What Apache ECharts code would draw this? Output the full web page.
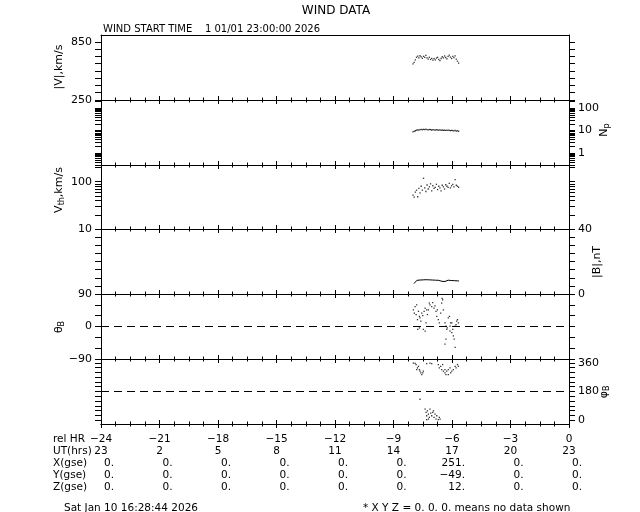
<!DOCTYPE html>
<html><head><meta charset="utf-8">
<script src="https://cdn.jsdelivr.net/npm/echarts@6/dist/echarts.min.js"></script>
<style>html,body{margin:0;padding:0;background:#fff}#c{width:640px;height:512px}</style>
</head><body><div id="c"></div>
<script>
// ---------------- DATA ----------------
const plasmaHours = [-8.00,-7.94,-7.88,-7.82,-7.76,-7.70,-7.64,-7.58,-7.52,-7.46,-7.40,-7.34,-7.28,-7.22,-7.16,-7.10,-7.04,-6.98,-6.92,-6.86,-6.80,-6.74,-6.68,-6.62,-6.56,-6.50,-6.44,-6.38,-6.32,-6.26,-6.20,-6.14,-6.08,-6.02,-5.96,-5.90,-5.84,-5.78,-5.72,-5.66];
const speedKms = [622,638,664,690,702,684,706,694,680,700,690,710,684,672,690,668,680,660,676,664,682,690,668,656,678,696,684,704,688,674,700,712,692,678,700,686,704,672,650,630];
const densityNp = [8.8,9.2,9.8,10.4,10.8,10.4,11.1,11.4,10.8,11.3,11.0,11.5,11.1,10.8,11.2,11.0,10.6,11.0,10.8,10.5,10.9,10.6,10.4,10.7,10.3,10.6,10.2,10.4,10.1,10.3,10.5,10.2,9.9,10.2,10.0,9.7,10.1,9.5,9.8,9.3];
const thermalVth = [52,47,60,66,48,72,58,80,66,118,74,62,85,70,78,90,64,82,72,76,88,68,80,74,64,84,78,70,86,80,76,92,74,82,88,78,110,84,80,76];

const magHours = [-7.95,-7.88,-7.80,-7.72,-7.64,-7.56,-7.48,-7.40,-7.32,-7.24,-7.16,-7.08,-7.00,-6.92,-6.84,-6.76,-6.68,-6.60,-6.52,-6.44,-6.36,-6.28,-6.20,-6.12,-6.04,-5.96,-5.88,-5.80,-5.72,-5.64];
const fieldBnT = [6.4,6.6,8.4,8.8,8.6,8.9,8.7,9.2,8.8,8.9,8.7,8.8,8.6,8.6,8.5,8.3,8.4,8.0,7.8,8.1,7.7,8.3,8.5,8.2,8.3,8.1,8.2,8.0,8.1,8.0];

const thetaHours = [-7.98,-7.89,-7.81,-7.93,-7.84,-7.72,-7.67,-7.77,-7.64,-7.55,-7.60,-7.50,-7.43,-7.38,-7.30,-7.76,-7.67,-7.47,-7.38,-7.33,-7.26,-7.21,-7.16,-7.13,-7.04,-6.99,-6.92,-6.87,-6.82,-6.75,-6.78,-6.70,-6.65,-6.58,-6.53,-6.51,-6.48,-6.44,-6.36,-6.31,-6.27,-6.24,-6.19,-6.13,-6.10,-6.07,-6.01,-5.96,-5.93,-5.89,-5.84,-5.79,-5.76,-5.72,-5.67,-5.84,-6.31,-6.36,-6.01,-6.10];
const thetaDeg = [46,55,60,37,33,42,28,19,24,37,15,30,42,51,46,-8,-4,-8,-13,10,33,46,65,60,55,66,51,57,42,46,28,19,10,37,65,78,74,46,10,1,-8,-4,24,28,-13,10,-17,-8,-26,-35,1,5,15,19,10,-58,-35,-49,10,1];

const phiHours = [-7.98,-7.89,-7.84,-7.77,-7.72,-7.67,-7.64,-7.60,-7.55,-7.50,-7.47,-7.81,-7.30,-7.13,-7.04,-6.70,-6.65,-6.58,-6.53,-6.44,-6.36,-6.31,-6.27,-6.19,-6.10,-6.01,-5.93,-5.84,-5.79,-5.72,-5.67,-6.36,-6.48,-6.19,-6.07,
  -7.64,-7.38,-7.33,-7.30,-7.26,-7.21,-7.16,-7.13,-7.09,-7.04,-6.99,-6.95,-6.92,-6.87,-6.82,-6.78,-7.21,-6.70,-6.65,-6.61,-7.30];
const phiDeg = [359,357,350,329,339,318,308,298,287,298,308,318,356,359,356,350,329,339,318,308,298,287,308,318,329,308,318,339,329,350,339,318,350,287,298,
  131,69,48,27,58,37,17,69,44,27,48,58,17,37,6,27,6,2,17,6,2];

// tick labels / table
const relHr = [-24,-21,-18,-15,-12,-9,-6,-3,0];
const utHrs = ['23','2','5','8','11','14','17','20','23'];
const xGse = ['0.','0.','0.','0.','0.','0.','251.','0.','0.'];
const yGse = ['0.','0.','0.','0.','0.','0.','-49.','0.','0.'];
const zGse = ['0.','0.','0.','0.','0.','0.','12.','0.','0.'];
const rowLabels = ['rel HR','UT(hrs)','X(gse)','Y(gse)','Z(gse)'];

const speedTicks = [250,325,400,475,550,625,700,775,850];
const speedLabels = [250,850];
function logTicks(lo, hi){ const out=[]; for(let d=lo; d<hi; d*=10){ for(let k=1;k<10;k++){ out.push(+(d*k).toPrecision(3)); } } return out; }
const npTicks = logTicks(0.1, 1000);
const npLabels = [1,10,100];
const vthTicks = logTicks(10, 1000);
const vthLabels = [10,100];
const bTicks = [0,5,10,15,20,25,30,35,40];
const bLabels = [0,40];
const thetaTicks = [-90,-60,-30,0,30,60,90];
const thetaLabels = [-90,0,90];
const phiTicks = [0,30,60,90,120,150,180,210,240,270,300,330,360];
const phiLabels = [0,180,360];

// ---------------- CHART ----------------
const FONT = 'DejaVu Sans';
const FS = 11;
const TFS = 10.5;
const chart = echarts.init(document.getElementById('c'), null, {renderer:'canvas', width:640, height:512});

const tops = [35,100,165,229,294,359];
const heights = [65,65,64,65,65,65];
const grids = tops.map((t,i)=>({left:101, width:468, top:t, height:heights[i], outerBoundsMode:'none', containLabel:false}));

const BLACK = '#000';
function minus(v){ return String(v).replace('-', '\u2212'); }

const xAxes = [];
const bottomX = [];
function addX(gi, pos, inside, showTicks, labels){
  const ax = {
    type:'value', gridIndex:gi, position:pos, min:-24, max:0, interval:3,
    axisLine:{show:true, onZero:false, lineStyle:{color:BLACK, width:1}},
    axisTick:{show:showTicks, inside:inside, length:4, lineStyle:{color:BLACK, width:1}},
    minorTick:{show:showTicks, splitNumber:4, length:2.5, lineStyle:{color:BLACK, width:1}},
    splitLine:{show:false}, minorSplitLine:{show:false},
    axisLabel:{show:false}
  };
  if(labels){
    ax.axisLabel = {
      show:true, margin:9, showMinLabel:true, showMaxLabel:true, hideOverlap:false,
      fontFamily:FONT, fontSize:TFS, color:BLACK,
      formatter:function(v){
        const i = relHr.indexOf(Math.round(v));
        if(i<0) return '';
        return '{a|'+minus(relHr[i])+'}\n{a|'+utHrs[i]+'}\n{b|'+minus(xGse[i])+'}\n{b|'+minus(yGse[i])+'}\n{b|'+minus(zGse[i])+'}';
      },
      rich:{
        a:{fontFamily:FONT, fontSize:TFS, lineHeight:12, color:BLACK},
        b:{fontFamily:FONT, fontSize:TFS, lineHeight:12, color:BLACK, width:26, align:'right'}
      }
    };
  }
  xAxes.push(ax);
  return xAxes.length-1;
}
for(let i=0;i<6;i++){
  bottomX.push(addX(i,'bottom',true,true,false));
  addX(i,'top',true,i>0,false);
}
addX(5,'bottom',false,true,true);

const panels = [
  {type:'value', min:250, max:920, ticks:speedTicks, labels:speedLabels, side:'left'},
  {type:'log', min:0.3, max:225, ticks:npTicks, labels:npLabels, side:'right'},
  {type:'log', min:10, max:225, ticks:vthTicks, labels:vthLabels, side:'left'},
  {type:'value', min:0, max:40, ticks:bTicks, labels:bLabels, side:'right'},
  {type:'value', min:-90, max:90, ticks:thetaTicks, labels:thetaLabels, side:'left'},
  {type:'value', min:-25, max:385, ticks:phiTicks, labels:phiLabels, side:'right'}
];
const yAxes = [];
const leftY = [];
panels.forEach((p,i)=>{
  ['left','right'].forEach(side=>{
    const ax = {
      type:p.type, gridIndex:i, position:side, min:p.min, max:p.max,
      axisLine:{show:true, onZero:false, lineStyle:{color:BLACK, width:1}},
      axisTick:{show:true, inside:false, length:6, customValues:p.ticks, lineStyle:{color:BLACK, width:1}},
      minorTick:{show:false}, splitLine:{show:false},
      axisLabel:{show:side===p.side, customValues:p.labels, margin:9, fontFamily:FONT, fontSize:FS, color:BLACK,
        formatter:function(v){ return minus(v); }}
    };
    yAxes.push(ax);
    if(side==='left') leftY.push(yAxes.length-1);
  });
});

function zip(a,b){ return a.map((v,i)=>[v,b[i]]); }
const dotStyle = {color:BLACK};
const DOT = 1.3;
const dash = {type:[8,5], color:BLACK, width:1};
const series = [
  {type:'scatter', xAxisIndex:bottomX[0], yAxisIndex:leftY[0], data:zip(plasmaHours,speedKms), symbol:'rect', symbolSize:DOT, itemStyle:dotStyle},
  {type:'scatter', xAxisIndex:bottomX[1], yAxisIndex:leftY[1], data:zip(plasmaHours,densityNp), symbol:'rect', symbolSize:DOT, itemStyle:dotStyle},
  {type:'scatter', xAxisIndex:bottomX[2], yAxisIndex:leftY[2], data:zip(plasmaHours,thermalVth), symbol:'rect', symbolSize:DOT, itemStyle:dotStyle},
  {type:'line', xAxisIndex:bottomX[3], yAxisIndex:leftY[3], data:zip(magHours,fieldBnT), showSymbol:false, symbol:'none', lineStyle:{color:BLACK, width:1}},
  {type:'scatter', xAxisIndex:bottomX[4], yAxisIndex:leftY[4], data:zip(thetaHours,thetaDeg), symbol:'rect', symbolSize:DOT, itemStyle:dotStyle,
    markLine:{silent:true, symbol:['none','none'], label:{show:false}, lineStyle:dash, data:[{yAxis:0}]}},
  {type:'scatter', xAxisIndex:bottomX[5], yAxisIndex:leftY[5], data:zip(phiHours,phiDeg), symbol:'rect', symbolSize:DOT, itemStyle:dotStyle,
    markLine:{silent:true, symbol:['none','none'], label:{show:false}, lineStyle:dash, data:[{yAxis:180}]}}
];

function txt(x,y,text,opts){
  opts = opts||{};
  return {type:'text', x:x, y:y, rotation:opts.rot||0, silent:true,
    style:{text:text, fill:BLACK, fontFamily:FONT, fontSize:opts.fs||FS, align:opts.align||'left', verticalAlign:'middle', rich:opts.rich}};
}
const subRich = {n:{fontFamily:FONT, fontSize:FS, fill:BLACK, lineHeight:14}, s:{fontFamily:FONT, fontSize:8, fill:BLACK, verticalAlign:'bottom', lineHeight:14}};
const graphics = [
  txt(336,11,'WIND DATA',{align:'center', fs:12}),
  txt(103,29,'WIND START TIME    1 01/01 23:00:00 2026',{fs:10}),
  txt(59,67,'|V|,km/s',{align:'center', rot:Math.PI/2}),
  txt(59,190,'{n|V}{s|th}{n|,km/s}',{align:'center', rot:Math.PI/2, rich:subRich}),
  txt(59,327,'{n|θ}{s|B}',{align:'center', rot:Math.PI/2, rich:subRich}),
  txt(604,130,'{n|N}{s|p}',{align:'center', rot:Math.PI/2, rich:subRich}),
  txt(597,262,'|B|,nT',{align:'center', rot:Math.PI/2}),
  txt(604,392,'{n|φ}{s|B}',{align:'center', rot:Math.PI/2, rich:subRich}),
  txt(64,508,'Sat Jan 10 16:28:44 2026',{fs:10.5}),
  txt(363,508,'* X Y Z = 0. 0. 0. means no data shown',{fs:10.5})
];
rowLabels.forEach((r,i)=>graphics.push(txt(53,439+12*i,r,{fs:TFS})));

chart.setOption({
  animation:false,
  backgroundColor:'#fff',
  grid:grids, xAxis:xAxes, yAxis:yAxes, series:series,
  graphic:graphics
});
</script></body></html>
